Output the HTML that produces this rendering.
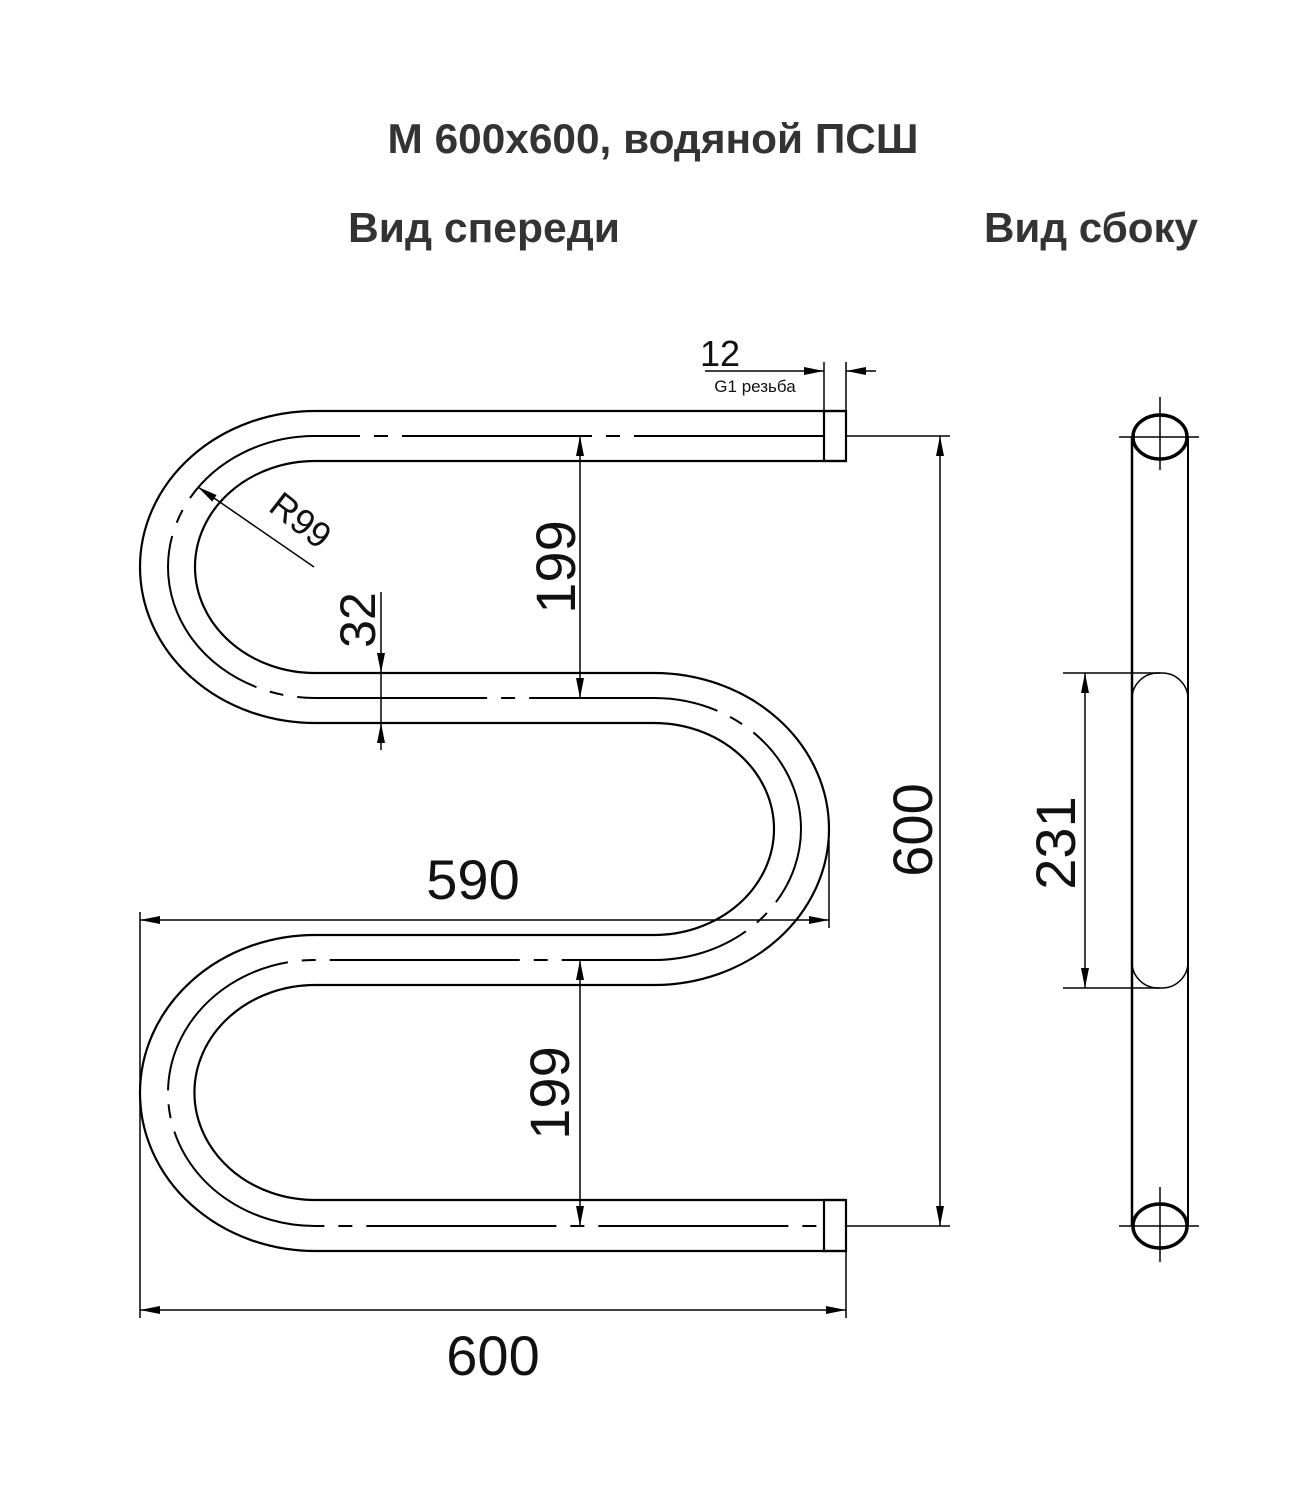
<!DOCTYPE html>
<html><head><meta charset="utf-8"><style>
html,body{margin:0;padding:0;background:#fff;}
svg{display:block;}
.t{font-family:"Liberation Sans",sans-serif;font-weight:bold;fill:#333;}
.n{font-family:"Liberation Sans",sans-serif;fill:#111;}
</style></head><body>
<svg width="1316" height="1500" viewBox="0 0 1316 1500" xmlns="http://www.w3.org/2000/svg">
<defs>
<marker id="a" viewBox="0 0 20 8" refX="20" refY="4" markerWidth="20" markerHeight="8" markerUnits="userSpaceOnUse" orient="auto-start-reverse"><path d="M0,0 L20,4 L0,8 z" fill="#000"/></marker>
</defs>
<text class="t" x="653" y="153" font-size="42" text-anchor="middle" textLength="531" lengthAdjust="spacingAndGlyphs">М 600х600, водяной ПСШ</text>
<text class="t" x="484" y="242" font-size="42" text-anchor="middle" textLength="272" lengthAdjust="spacingAndGlyphs">Вид спереди</text>
<text class="t" x="1091" y="242" font-size="42" text-anchor="middle" textLength="214" lengthAdjust="spacingAndGlyphs">Вид сбоку</text>

<g fill="none" stroke="#000" stroke-width="2.2">
<path d="M846,411 H315 A175,156 0 0 0 315,723 H654 A120,106 0 0 1 654,935 H315 A175,158 0 0 0 315,1251 H846"/>
<path d="M846,461 H315 A120,106 0 0 0 315,673 H654 A175,156 0 0 1 654,985 H315 A120,107 0 0 0 315,1200 H846"/>
<rect x="824" y="411" width="22" height="50"/>
<rect x="824" y="1200" width="22" height="51"/>
</g>
<path d="M824,436 H315 A147,131 0 0 0 315,698 H654 A147,131 0 0 1 654,960 H315 A147,133 0 0 0 315,1226 H824" fill="none" stroke="#000" stroke-width="2" stroke-dasharray="190 14 14 14"/>

<g stroke="#000" stroke-width="1.5" fill="none">
<line x1="580" y1="436" x2="580" y2="698" marker-start="url(#a)" marker-end="url(#a)"/>
<line x1="580" y1="960" x2="580" y2="1226" marker-start="url(#a)" marker-end="url(#a)"/>
<line x1="381" y1="592" x2="381" y2="673" marker-end="url(#a)"/>
<line x1="381" y1="750" x2="381" y2="723" marker-end="url(#a)"/>
<line x1="381" y1="673" x2="381" y2="723"/>
<line x1="846" y1="436" x2="950" y2="436"/>
<line x1="846" y1="1226" x2="950" y2="1226"/>
<line x1="940" y1="436" x2="940" y2="1226" marker-start="url(#a)" marker-end="url(#a)"/>
<line x1="140" y1="912" x2="140" y2="1318"/>
<line x1="829" y1="840" x2="829" y2="928"/>
<line x1="140" y1="920" x2="829" y2="920" marker-start="url(#a)" marker-end="url(#a)"/>
<line x1="846" y1="1200" x2="846" y2="1318"/>
<line x1="140" y1="1310" x2="846" y2="1310" marker-start="url(#a)" marker-end="url(#a)"/>
<line x1="824" y1="362" x2="824" y2="411"/>
<line x1="846" y1="362" x2="846" y2="411"/>
<line x1="705" y1="371" x2="824" y2="371" marker-end="url(#a)"/>
<line x1="876" y1="371" x2="846" y2="371" marker-end="url(#a)"/>
<line x1="314" y1="567" x2="198" y2="487" marker-end="url(#a)"/>
</g>

<text class="n" x="473" y="899" font-size="56" text-anchor="middle">590</text>
<text class="n" x="493" y="1375" font-size="56" text-anchor="middle">600</text>
<text class="n" x="720" y="366" font-size="36" text-anchor="middle">12</text>
<text class="n" x="755" y="392" font-size="17" text-anchor="middle">G1 резьба</text>
<text class="n" font-size="56" text-anchor="middle" transform="translate(575,567) rotate(-90)">199</text>
<text class="n" font-size="56" text-anchor="middle" transform="translate(569,1093) rotate(-90)">199</text>
<text class="n" font-size="50" text-anchor="middle" transform="translate(375,620) rotate(-90)">32</text>
<text class="n" font-size="56" text-anchor="middle" transform="translate(932,830) rotate(-90)">600</text>
<text class="n" font-size="36" text-anchor="middle" transform="translate(293,530) rotate(38)">R99</text>

<g fill="none" stroke="#000">
<line x1="1132" y1="437" x2="1132" y2="1226" stroke-width="2.5"/>
<line x1="1188" y1="437" x2="1188" y2="1226" stroke-width="2"/>
<path d="M1132,700 A26,26 0 0 1 1158,673 H1162 A26,26 0 0 1 1188,700 V962 A26,26 0 0 1 1162,988 H1158 A26,26 0 0 1 1132,962 Z" stroke-width="1.5"/>
<ellipse cx="1160" cy="437" rx="27" ry="22" stroke-width="3.5"/>
<ellipse cx="1160" cy="1226" rx="27" ry="22" stroke-width="3.5"/>
<g stroke-width="1.5">
<line x1="1119" y1="437" x2="1199" y2="437"/><line x1="1160" y1="397" x2="1160" y2="470"/>
<line x1="1119" y1="1226" x2="1199" y2="1226"/><line x1="1160" y1="1187" x2="1160" y2="1262"/>
<line x1="1063" y1="673" x2="1160" y2="673"/>
<line x1="1063" y1="988" x2="1160" y2="988"/>
<line x1="1085" y1="673" x2="1085" y2="988" marker-start="url(#a)" marker-end="url(#a)"/>
</g>
</g>
<text class="n" font-size="56" text-anchor="middle" transform="translate(1075,843) rotate(-90)">231</text>
</svg>
</body></html>
